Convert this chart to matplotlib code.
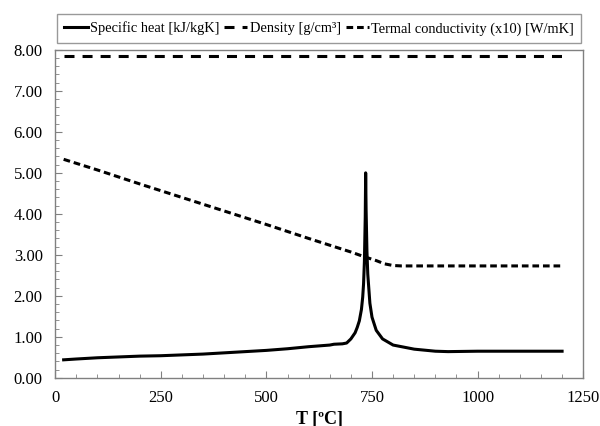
import matplotlib
matplotlib.use("Agg")
import matplotlib.pyplot as plt
from matplotlib.ticker import MultipleLocator, FormatStrFormatter

# Steel properties vs temperature
temp_cp = [20, 50, 100, 150, 200, 250, 300, 350, 400, 450, 500, 550, 600,
           625, 650, 660, 680, 690, 700, 710, 715, 720, 725, 728, 730, 732,
           734, 735, 736, 738, 740, 745, 750, 760, 775, 800, 850, 900, 930,
           1000, 1100, 1200]
specific_heat = [0.44, 0.46, 0.49, 0.51, 0.53, 0.54, 0.56, 0.58, 0.61, 0.64,
                 0.67, 0.71, 0.76, 0.78, 0.80, 0.82, 0.83, 0.85, 0.95, 1.10,
                 1.23, 1.39, 1.67, 1.97, 2.29, 2.83, 3.92, 5.00, 4.11, 3.09,
                 2.53, 1.82, 1.48, 1.16, 0.95, 0.80, 0.70, 0.65, 0.64, 0.65,
                 0.65, 0.65]

temp_rho = [20, 1200]
density = [7.85, 7.85]

temp_k = [20, 100, 200, 300, 400, 500, 600, 700, 730, 760, 780, 800, 820,
          900, 1000, 1100, 1200]
conductivity = [5.33, 5.07, 4.73, 4.40, 4.07, 3.74, 3.40, 3.07, 2.96, 2.86,
                2.78, 2.74, 2.73, 2.73, 2.73, 2.73, 2.73]

plt.rcParams["font.family"] = ["Liberation Serif", "DejaVu Serif"]
plt.rcParams["lines.scale_dashes"] = False

fig = plt.figure(figsize=(6.0, 4.26), dpi=100)
ax = fig.add_axes([0.092, 0.113, 0.880, 0.770])

ax.plot(temp_cp, specific_heat, color="black", lw=2.2,
        label="Specific heat [kJ/kgK]")
ax.plot(temp_rho, density, color="black", lw=2.2, dashes=(7.2, 5.8),
        label="Density [g/cm³]")
ax.plot(temp_k, conductivity, color="black", lw=2.2, dashes=(4.8, 2.8),
        label="Termal conductivity (x10) [W/mK]")

ax.set_xlim(0, 1250)
ax.set_ylim(0, 8)
ax.xaxis.set_major_locator(MultipleLocator(250))
ax.xaxis.set_minor_locator(MultipleLocator(50))
ax.yaxis.set_major_locator(MultipleLocator(1))
ax.yaxis.set_minor_locator(MultipleLocator(0.2))
ax.yaxis.set_major_formatter(FormatStrFormatter("%.2f"))
ax.tick_params(which="both", direction="in", top=False, right=False,
               labelsize=12, colors="#808080", labelcolor="black")
ax.tick_params(which="major", length=5, pad=9)
ax.tick_params(which="minor", length=3)
for sp in ax.spines.values():
    sp.set_color("#808080")
    sp.set_linewidth(1.0)

ax.set_xlabel("T [ºC]", fontsize=13, fontweight="bold", labelpad=3)

leg = fig.legend(loc="center", bbox_to_anchor=(0.532, 0.933), ncol=3,
                 fontsize=10.4, frameon=True, fancybox=False,
                 handlelength=1.6, handletextpad=0.15, columnspacing=0.35,
                 borderpad=0.5, borderaxespad=0)
leg.get_frame().set_edgecolor("#808080")
leg.get_frame().set_linewidth(1.0)

fig.savefig("out.png", dpi=100)
